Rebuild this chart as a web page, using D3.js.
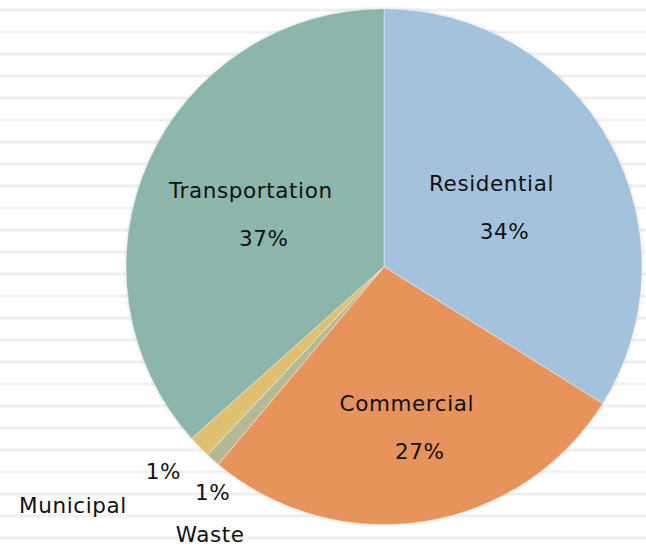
<!DOCTYPE html>
<html>
<head>
<meta charset="utf-8">
<script src="https://cdn.jsdelivr.net/npm/d3@7/dist/d3.min.js"></script>
<style>
  html, body { margin: 0; padding: 0; background: #ffffff; }
  svg { display: block; }
  text { font-family: "DejaVu Sans", sans-serif; fill: #111111; }
</style>
</head>
<body>
<svg id="chart" width="646" height="548"></svg>
<script>
// ---- data ----
const categories = ["Residential", "Commercial", "Waste", "Municipal", "Transportation"];
const values = [33.9, 27.2, 0.9, 1.4, 36.6];
const colors = ["#A5C2DC", "#E6945B", "#B3BA95", "#DFBF6F", "#8CB5AB"];

// ---- layout ----
const W = 646, H = 548;
const cx = 384, cy = 266.7, R = 258;
const fontSize = 21.5;

// label placement (polar, relative to slice mid angle) — layout, not data
const labelLayout = {
  "Residential":    { inside: true,  r: 0.51,  da: -6.2 },
  "Commercial":     { inside: true,  r: 0.566, da: 0 },
  "Transportation": { inside: true,  r: 0.581, da: 3.2 },
  "Municipal":      { inside: false, r: 1.186, da: 0.4, ndx: -90.5, ndy: 34 },
  "Waste":          { inside: false, r: 1.122, da: -5.3, ndx: -2.5, ndy: 42 }
};

const svg = d3.select("#chart");

// background stripes
const stripeY = d3.range(10, H, 22);
svg.append("g").selectAll("rect").data(stripeY).join("rect")
  .attr("x", 0).attr("width", W)
  .attr("y", d => d - 1.5).attr("height", 3)
  .attr("fill", "#f0f0f0");

const defs = svg.append("defs");
const f = defs.append("filter").attr("id", "sh").attr("x", "-10%").attr("y", "-10%").attr("width", "120%").attr("height", "120%");
f.append("feDropShadow").attr("dx", 0).attr("dy", 0).attr("stdDeviation", 1.5)
  .attr("flood-color", "#000").attr("flood-opacity", 0.18);

const data = categories.map((c, i) => ({ name: c, value: values[i], color: colors[i] }));
const pie = d3.pie().value(d => d.value).sort(null).startAngle(0).endAngle(2 * Math.PI);
const arcs = pie(data);
const arc = d3.arc().innerRadius(0).outerRadius(R);

const g = svg.append("g").attr("transform", `translate(${cx},${cy})`);
g.append("g").attr("filter", "url(#sh)")
  .selectAll("path").data(arcs).join("path")
  .attr("d", arc)
  .attr("fill", d => d.data.color)
  .attr("stroke", "#ffffff").attr("stroke-width", 0.6).attr("stroke-opacity", 0.7);

const pct = d3.format(".0%");
const lbl = g.append("g").attr("font-size", fontSize).attr("letter-spacing", 0.6);
arcs.forEach(a => {
  const L = labelLayout[a.data.name];
  const mid = (a.startAngle + a.endAngle) / 2 + L.da * Math.PI / 180;
  const px = Math.sin(mid) * L.r * R;
  const py = -Math.cos(mid) * L.r * R;
  const ptext = pct(Math.round(a.data.value) / 100);
  if (L.inside) {
    lbl.append("text").attr("x", px).attr("y", py)
      .attr("text-anchor", "middle").text(a.data.name);
    lbl.append("text").attr("x", px + 13).attr("y", py + 48)
      .attr("text-anchor", "middle").text(ptext);
  } else {
    lbl.append("text").attr("x", px).attr("y", py)
      .attr("text-anchor", "middle").text(ptext);
    lbl.append("text").attr("x", px + L.ndx).attr("y", py + L.ndy)
      .attr("text-anchor", "middle").text(a.data.name);
  }
});
</script>
</body>
</html>
